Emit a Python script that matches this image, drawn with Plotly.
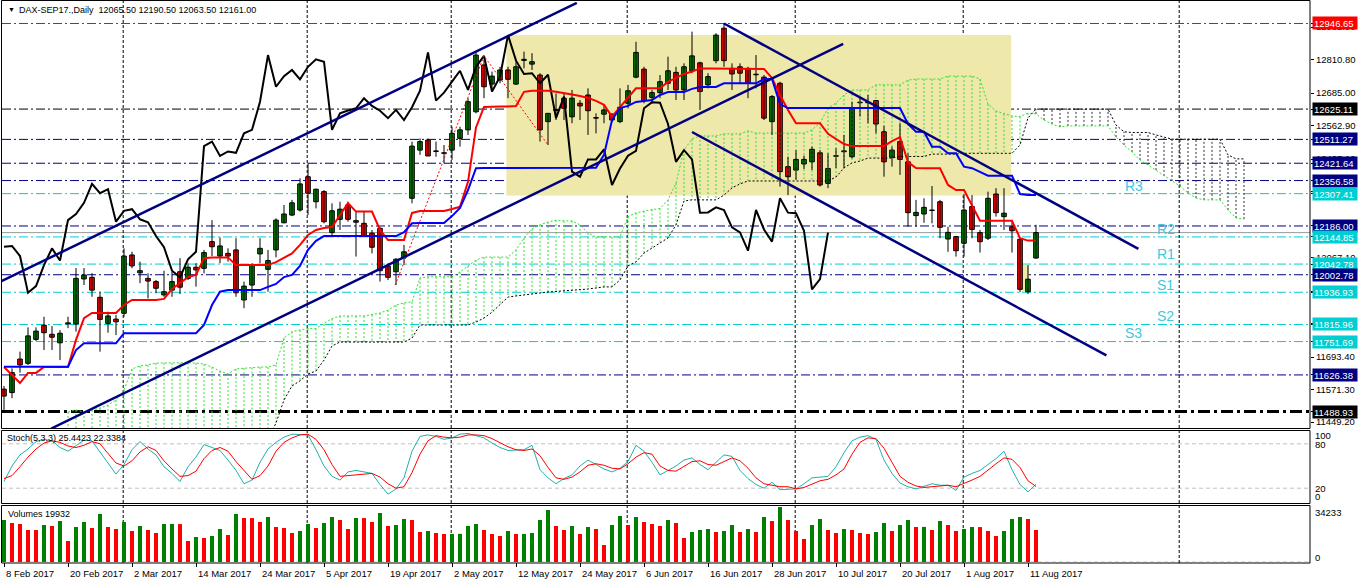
import plotly.graph_objects as go

W, H = 1358, 584

# ---------------- data ----------------
date_labels = ["8 Feb 2017", "20 Feb 2017", "2 Mar 2017", "14 Mar 2017", "24 Mar 2017",
               "5 Apr 2017", "19 Apr 2017", "2 May 2017", "12 May 2017", "24 May 2017",
               "6 Jun 2017", "16 Jun 2017", "28 Jun 2017", "10 Jul 2017", "20 Jul 2017",
               "1 Aug 2017", "11 Aug 2017"]
date_label_bars = [0, 8, 16, 24, 32, 40, 48, 56, 64, 72, 80, 88, 96, 104, 112, 120, 128]
month_start_bars = [15, 38, 56, 78, 99, 120, 147]

opens = [11573, 11560, 11686, 11670, 11760, 11813, 11779, 11747, 11818, 11818,
         11987, 11993, 11918, 11820, 11836, 11858, 12077, 12010, 11989, 11977,
         11927, 11945, 12014, 11989, 12031, 12027, 12127, 12073, 12083, 12096,
         11908, 11964, 12081, 12023, 12096, 12198, 12227, 12246, 12371, 12277,
         12315, 12161, 12211, 12265, 12206, 12196, 12159, 12177, 12036, 12014,
         12068, 12290, 12471, 12509, 12468, 12459, 12471, 12515, 12547, 12615,
         12791, 12719, 12734, 12772, 12719, 12808, 12794, 12753, 12578, 12624,
         12666, 12596, 12647, 12678, 12593, 12606, 12606, 12578, 12647, 12745,
         12775, 12669, 12687, 12722, 12763, 12697, 12769, 12799, 12716, 12807,
         12929, 12778, 12784, 12778, 12756, 12745, 12578, 12722, 12409, 12396,
         12419, 12427, 12461, 12346, 12448, 12465, 12446, 12649, 12651, 12657,
         12540, 12444, 12503, 12427, 12225, 12231, 12244, 12277, 12137, 12146,
         12121, 12259, 12161, 12140, 12306, 12221, 12183, 12136, 11939, 12065.50]
highs = [11585, 11651, 11714, 11805, 11805, 11845, 11810, 11795, 11845, 12028,
         12028, 12009, 11939, 11864, 11852, 12102, 12089, 12052, 12008, 11983,
         12018, 12014, 12065, 12046, 12046, 12096, 12208, 12143, 12102, 12140,
         11977, 12046, 12140, 12096, 12215, 12265, 12284, 12365, 12421.64, 12326,
         12321, 12271, 12277, 12277, 12240, 12240, 12171, 12183, 12046, 12065,
         12115, 12503, 12515, 12515, 12503, 12490, 12559, 12559, 12666, 12841,
         12810, 12766, 12784, 12784, 12803, 12841, 12835, 12760, 12609, 12684,
         12684, 12697, 12659, 12703, 12609, 12640, 12609, 12703, 12716, 12878,
         12784, 12697, 12753, 12822, 12784, 12797, 12916, 12803, 12760, 12910,
         12946.65, 12797, 12797, 12784, 12828, 12753, 12678, 12728, 12446, 12471,
         12450, 12484, 12471, 12459, 12478, 12528, 12653, 12672, 12678, 12659,
         12562, 12484, 12572, 12459, 12284, 12290, 12336, 12284, 12183, 12146,
         12306, 12302, 12171, 12315, 12328, 12328, 12208, 12140, 12039, 12190.50]
lows = [11489, 11539, 11635, 11664, 11754, 11720, 11720, 11682, 11802, 11789,
        11964, 11920, 11714, 11785, 11776, 11845, 12027, 11971, 11914, 11933,
        11920, 11920, 11930, 11983, 11958, 12008, 12073, 12046, 12052, 11920,
        11877, 11920, 12046, 11939, 12068, 12196, 12223, 12240, 12227, 12252,
        12196, 12146, 12171, 12202, 12071, 12146, 12083, 11977, 11983, 11964,
        12039, 12271, 12453, 12449, 12446, 12421, 12434, 12484, 12528, 12609,
        12666, 12690, 12722, 12666, 12716, 12778, 12772, 12503, 12490, 12584,
        12584, 12572, 12584, 12528, 12534, 12572, 12575, 12572, 12628, 12741,
        12647, 12647, 12666, 12697, 12659, 12659, 12760, 12622, 12703, 12797,
        12784, 12697, 12722, 12666, 12703, 12584, 12528, 12334, 12302, 12359,
        12400, 12396, 12334, 12328, 12403, 12403, 12440, 12597, 12572, 12534,
        12371, 12409, 12378, 12183, 12183, 12198, 12196, 12140, 12089, 12071,
        12071, 12140, 12086, 12133, 12221, 12171, 12086, 11937, 11930, 12063.50]
closes = [11547, 11635, 11664, 11773, 11791, 11785, 11768, 11783, 11822, 11989,
          12002, 11945, 11835, 11848, 11826, 12073, 12036, 12018, 11979, 11952,
          11939, 11977, 11956, 12031, 12021, 12086, 12108, 12111, 12073, 11935,
          11960, 12039, 12102, 12056, 12208, 12231, 12273, 12344, 12309, 12324,
          12202, 12243, 12249, 12211, 12200, 12148, 12106, 12018, 11993, 12061,
          12089, 12486, 12503, 12449, 12466, 12461, 12534, 12547, 12653, 12828,
          12709, 12749, 12772, 12737, 12784, 12812, 12803, 12547, 12609, 12620,
          12628, 12666, 12637, 12619, 12591, 12622, 12584, 12632, 12694, 12838,
          12657, 12687, 12728, 12769, 12697, 12784, 12825, 12691, 12747, 12903,
          12807, 12757, 12760, 12722, 12754, 12591, 12672, 12390, 12371, 12436,
          12436, 12474, 12340, 12402, 12450, 12468, 12628, 12651, 12649, 12569,
          12427, 12471, 12436, 12236, 12237, 12256, 12246, 12181, 12162, 12093,
          12246, 12173, 12127, 12290, 12236, 12234, 12168, 11948, 11986, 12161.00]

tenkan = [11656, 11626, 11596, 11634, 11634, 11656, 11656, 11656, 11656, 11758,
          11840, 11859, 11859, 11859, 11859, 11889, 11908, 11908, 11908, 11908,
          11912, 11949, 11972, 11994, 12002, 12065, 12068, 12068, 12068, 12039,
          12039, 12039, 12039, 12039, 12050, 12066, 12083, 12115, 12152, 12171,
          12178, 12182, 12227, 12272, 12240, 12240, 12240, 12171, 12133, 12133,
          12133, 12235, 12242, 12242, 12242, 12242, 12250, 12258, 12352, 12556,
          12633, 12635, 12635, 12635, 12637, 12690, 12694, 12694, 12694, 12690,
          12686, 12680, 12674, 12667, 12656, 12641, 12597, 12633, 12671, 12703,
          12703, 12703, 12703, 12727, 12742, 12757, 12766, 12778, 12778, 12778,
          12778, 12778, 12778, 12778, 12778, 12776, 12742, 12678, 12622, 12572,
          12572, 12572, 12572, 12532, 12513, 12494, 12486, 12486, 12486, 12486,
          12486, 12505, 12520, 12426, 12404, 12403, 12403, 12403, 12340, 12321,
          12321, 12265, 12206, 12206, 12206, 12206, 12206, 12140, 12131, 12131]
kijun = [11657, 11657, 11657, 11657, 11657, 11657, 11657, 11657, 11657, 11720,
         11745, 11745, 11745, 11745, 11745, 11783, 11783, 11783, 11783, 11783,
         11783, 11783, 11783, 11783, 11783, 11814, 11889, 11939, 11945, 11945,
         11945, 11945, 11945, 11957, 11968, 11994, 12002, 12036, 12096, 12130,
         12148, 12148, 12148, 12148, 12148, 12148, 12148, 12148, 12148, 12148,
         12163, 12196, 12197, 12197, 12197, 12197, 12223, 12254, 12321, 12403,
         12404, 12404, 12404, 12404, 12404, 12404, 12404, 12404, 12404, 12404,
         12404, 12404, 12404, 12404, 12405, 12453, 12584, 12629, 12637, 12652,
         12656, 12659, 12678, 12689, 12689, 12689, 12701, 12708, 12708, 12708,
         12722, 12722, 12722, 12722, 12722, 12738, 12738, 12644, 12629, 12629,
         12629, 12629, 12629, 12629, 12629, 12629, 12629, 12629, 12629, 12629,
         12629, 12629, 12629, 12569, 12540, 12540, 12484, 12484, 12459, 12459,
         12409, 12403, 12389, 12375, 12375, 12375, 12375, 12306, 12302, 12302]
span_a = [None, None, None, None, None, None, None, None,
          11487, 11495, 11487, 11495, 11502, 11513, 11532, 11570, 11649, 11660,
          11664, 11671, 11672, 11672, 11672, 11672, 11671, 11667, 11656, 11641,
          11630, 11649, 11652, 11654, 11656, 11656, 11664, 11765, 11789, 11795,
          11801, 11801, 11818, 11838, 11848, 11848, 11848, 11848, 11853, 11859,
          11870, 11889, 11897, 11901, 11991, 11995, 11995, 11995, 11995, 12013,
          12036, 12058, 12069, 12069, 12069, 12069, 12096, 12141, 12175, 12190,
          12201, 12208, 12205, 12205, 12190, 12160, 12145, 12145, 12145, 12145,
          12221, 12235, 12242, 12248, 12252, 12284, 12347, 12471, 12513, 12524,
          12524, 12524, 12532, 12532, 12532, 12543, 12535, 12535, 12535, 12535,
          12535, 12535, 12535, 12547, 12573, 12629, 12648, 12678, 12697, 12697,
          12697, 12716, 12716, 12716, 12716, 12734, 12738, 12738, 12738, 12738,
          12749, 12749, 12749, 12749, 12738, 12644, 12618, 12607, 12599, 12597,
          12610, 12607, 12584, 12569, 12558, 12562, 12562, 12562, 12562, 12562,
          12562, 12520, 12490, 12464, 12434, 12415, 12396, 12374, 12355, 12336,
          12310, 12291, 12284, 12284, 12284, 12246, 12216, 12212]
span_b = [None, None, None, None, None, None, None, None,
          11380, 11380, 11380, 11380, 11380, 11380, 11380, 11380, 11380, 11380,
          11380, 11380, 11380, 11380, 11380, 11380, 11380, 11380, 11380, 11380,
          11380, 11380, 11380, 11380, 11380, 11380,
          11446, 11532, 11585, 11604, 11630, 11641, 11682, 11735, 11750, 11750,
          11750, 11750, 11750, 11750, 11750, 11750, 11750, 11765, 11814, 11814,
          11814, 11814, 11814, 11814, 11814, 11825, 11840, 11862, 11889, 11919,
          11923, 11927, 11930, 11934, 11938, 11940, 11942, 11944, 11945, 11949,
          11953, 11957, 11957, 11983, 12036, 12051, 12084, 12103, 12122, 12141,
          12190, 12280, 12284, 12284, 12284, 12284, 12302, 12329, 12344, 12355,
          12355, 12355, 12355, 12355, 12355, 12355, 12355, 12355, 12355, 12355,
          12370, 12404, 12423, 12430, 12441, 12441, 12441, 12441, 12447, 12447,
          12447, 12447, 12456, 12456, 12456, 12456, 12459, 12459, 12459, 12459,
          12459, 12459, 12459, 12490, 12592, 12625, 12625, 12625, 12625, 12625,
          12625, 12625, 12625, 12625, 12625, 12565, 12540, 12537, 12537, 12537,
          12528, 12520, 12512, 12512, 12512, 12512, 12512, 12512, 12512, 12453,
          12438, 12438]

stoch_k = [29, 50, 65, 73, 83, 86, 84, 75, 70, 78,
           85, 84, 69, 55, 39, 52, 72, 83, 73, 65,
           49, 40, 29, 49, 62, 79, 75, 71, 58, 44,
           26, 31, 55, 73, 82, 89, 93, 93, 92, 72,
           50, 36, 31, 42, 44, 42, 40, 25, 12, 19,
           34, 70, 90, 92, 90, 86, 88, 93, 94, 91,
           88, 81, 75, 71, 71, 72, 78, 45, 34, 26,
           33, 38, 50, 58, 52, 46, 42, 47, 56, 78,
           70, 55, 38, 44, 50, 58, 61, 52, 45, 55,
           65, 63, 44, 33, 25, 20, 28, 18, 19, 19,
           26, 34, 35, 36, 49, 68, 84, 89, 91, 86,
           58, 40, 27, 22, 19, 23, 26, 24, 24, 17,
           35, 40, 44, 52, 60, 70, 45, 25, 15, 25.4423]
stoch_d = [33, 37, 49, 62, 73, 81, 84, 82, 77, 75,
           78, 83, 80, 67, 54, 50, 57, 69, 76, 71,
           57, 46, 36, 37, 43, 60, 71, 75, 70, 56,
           44, 32, 37, 50, 70, 82, 88, 92, 93, 86,
           72, 52, 36, 37, 38, 39, 40, 35, 26, 20,
           22, 41, 66, 84, 91, 89, 88, 89, 92, 92,
           91, 87, 81, 76, 72, 71, 73, 64, 48, 34,
           32, 35, 42, 51, 53, 51, 47, 46, 53, 62,
           68, 66, 50, 44, 43, 50, 56, 57, 52, 51,
           56, 61, 57, 47, 34, 26, 24, 22, 22, 19,
           21, 26, 30, 32, 38, 46, 66, 82, 88, 87,
           74, 55, 36, 28, 23, 21, 22, 24, 24, 22,
           26, 31, 36, 45, 53, 61, 59, 48, 30, 22.3384]

volumes = [26158, 24289, 23666, 19930, 19900, 23044, 22421, 25535, 13079, 21798,
           24912, 21175, 29894, 21798, 20552, 24912, 19307, 22421, 19930, 18061,
           23666, 23700, 23600, 13079, 15570, 14947, 16193, 20552, 16816, 29894,
           27403, 27350, 24912, 28026, 21798, 21175, 18061, 19307, 23666, 21175,
           24289, 28026, 26158, 20552, 27403, 27350, 24912, 30517, 22421, 23044,
           26780, 26158, 18684, 19307, 18061, 17438, 17480, 17520, 22421, 23666,
           19930, 17438, 16193, 19307, 17438, 17480, 18061, 26158, 32386, 22421,
           19930, 22421, 17438, 21798, 20552, 10588, 23044, 28649, 23044, 28026,
           24912, 23666, 22421, 26158, 24289, 14947, 18684, 19930, 20552, 18684,
           19307, 23044, 18684, 20552, 18684, 28026, 25535, 34233, 26158, 19307,
           14324, 23044, 26780, 19930, 18061, 20552, 19930, 18061, 17438, 18684,
           24289, 19307, 23044, 26158, 21798, 21850, 19930, 25535, 23044, 19307,
           20552, 21798, 21750, 19307, 16193, 19307, 26780, 28026, 26780, 19932]
volume_max = 34233

level_prices = [12946.65, 12625.11, 12511.27, 12421.64, 12356.58, 12307.41, 12186.00,
                12144.85, 12042.78, 12002.78, 11936.93, 11815.96, 11751.69, 11626.38, 11488.93]
level_kinds = ["red", "black", "navy", "navy", "navy", "cyan", "navy",
               "cyan", "cyan", "navy", "cyan", "cyan", "cyan", "navy", "blackbold"]
price_ticks = [12932.90, 12810.80, 12685.00, 12562.90, 12437.10, 12315.00, 12189.20,
               12067.10, 11941.30, 11819.20, 11693.40, 11571.30, 11449.20]

pivot_names = ["R3", "R2", "R1", "S1", "S2", "S3"]
pivot_bars = [139.9, 143.9, 143.9, 143.9, 143.9, 139.9]
pivot_prices = [12336, 12175, 12079, 11964, 11849, 11784]

# drawn objects (anchor bar index, price)
channel_up_top = ([-0.5, 71.6], [11976, 13024])
channel_up_bottom = ([5.9, 104.9], [11425, 12870])
channel_down_top = ([90, 141.8], [12946.65, 12100])
channel_down_bottom = ([86, 137.8], [12539, 11700])
red_dotted_line = ([48.9, 60.0, 68.0], [11964, 12825, 12490])
box_main = [62.8, 125.9, 12300, 12903]
box_small = [127.2, 128.1, 11939, 12040]

# ---------------- styles / layout constants ----------------
FONT = "Liberation Sans, Arial, sans-serif"
GREEN = "#008000"
RED = "#FF0000"
NAVY = "#000080"
CYAN = "#00CED1"
kind_style = {
    "red": (RED, 1, "9px,3px,2px,3px"),
    "black": ("#000000", 1, "9px,3px,2px,3px"),
    "navy": (NAVY, 1, "9px,3px,2px,3px"),
    "cyan": (CYAN, 1, "9px,3px,2px,3px"),
    "blackbold": ("#000000", 3, "12px,4px,3px,4px"),
}
kind_bg = {"red": RED, "black": "#000000", "navy": NAVY, "cyan": CYAN, "blackbold": "#000000"}

X_LEFT, X_RIGHT = 2, 1310
MAIN_TOP, MAIN_BOT = 2, 428
STO_TOP, STO_BOT = 429, 503
VOL_TOP, VOL_BOT = 507, 562


def px(x):
    return x / W


def py(y):
    return 1 - y / H


n = len(closes)
bars = list(range(n))
n_span = len(span_a)

fig = go.Figure()

# Ichimoku cloud hatch
hx_bull, hy_bull, hx_bear, hy_bear = [], [], [], []
for i in range(n_span):
    a, b = span_a[i], span_b[i]
    if a is None or b is None:
        continue
    if a >= b:
        hx_bull += [i, i, None]
        hy_bull += [a, b, None]
    else:
        hx_bear += [i, i, None]
        hy_bear += [a, b, None]
fig.add_trace(go.Scatter(x=hx_bull, y=hy_bull, mode="lines",
                         line=dict(color="#33DD33", width=1, dash="2px,2px"),
                         xaxis="x", yaxis="y", hoverinfo="skip"))
fig.add_trace(go.Scatter(x=hx_bear, y=hy_bear, mode="lines",
                         line=dict(color="#333333", width=1, dash="2px,2px"),
                         xaxis="x", yaxis="y", hoverinfo="skip"))
fig.add_trace(go.Scatter(x=list(range(n_span)), y=span_a, mode="lines",
                         line=dict(color="#33DD33", width=1, dash="2px,2px"),
                         xaxis="x", yaxis="y", hoverinfo="skip"))
fig.add_trace(go.Scatter(x=list(range(n_span)), y=span_b, mode="lines",
                         line=dict(color="#000000", width=1, dash="2px,2px"),
                         xaxis="x", yaxis="y", hoverinfo="skip"))

# Chikou span (close shifted back 26 bars)
fig.add_trace(go.Scatter(x=bars[:n - 26], y=closes[26:], mode="lines",
                         line=dict(color="#000000", width=2),
                         xaxis="x", yaxis="y", hoverinfo="skip"))

# Candles: wicks
wx, wy = [], []
for i in range(n):
    wx += [i, i, None]
    wy += [lows[i], highs[i], None]
fig.add_trace(go.Scatter(x=wx, y=wy, mode="lines", line=dict(color="#000000", width=1),
                         xaxis="x", yaxis="y", hoverinfo="skip"))
# Candles: bodies
bases = [min(o, c) for o, c in zip(opens, closes)]
heights = [max(abs(c - o), 2.0) for o, c in zip(opens, closes)]
body_colors = [GREEN if c >= o else RED for o, c in zip(opens, closes)]
fig.add_trace(go.Bar(x=bars, y=heights, base=bases, width=0.58,
                     marker=dict(color=body_colors, line=dict(color="#000000", width=1)),
                     xaxis="x", yaxis="y", hoverinfo="skip"))

# Tenkan / Kijun
fig.add_trace(go.Scatter(x=bars, y=tenkan, mode="lines", line=dict(color=RED, width=2),
                         xaxis="x", yaxis="y", hoverinfo="skip"))
fig.add_trace(go.Scatter(x=bars, y=kijun, mode="lines", line=dict(color="#0000FF", width=2),
                         xaxis="x", yaxis="y", hoverinfo="skip"))

# Trend lines
for xs, ys in (channel_up_top, channel_up_bottom, channel_down_top, channel_down_bottom):
    fig.add_trace(go.Scatter(x=xs, y=ys, mode="lines", line=dict(color=NAVY, width=2.5),
                             xaxis="x", yaxis="y", hoverinfo="skip"))
fig.add_trace(go.Scatter(x=red_dotted_line[0], y=red_dotted_line[1], mode="lines",
                         line=dict(color=RED, width=1, dash="2px,2px"),
                         xaxis="x", yaxis="y", hoverinfo="skip"))

# Stochastic
fig.add_trace(go.Scatter(x=bars, y=stoch_k, mode="lines", line=dict(color="#20B2AA", width=1),
                         xaxis="x", yaxis="y2", hoverinfo="skip"))
fig.add_trace(go.Scatter(x=bars, y=stoch_d, mode="lines", line=dict(color=RED, width=1),
                         xaxis="x", yaxis="y2", hoverinfo="skip"))

# Volumes
vol_colors = [GREEN if (i == 0 or volumes[i] > volumes[i - 1]) else RED for i in range(n)]
fig.add_trace(go.Bar(x=bars, y=volumes, width=0.5, marker=dict(color=vol_colors, line=dict(width=0)),
                     xaxis="x", yaxis="y3", hoverinfo="skip"))

# ---------------- shapes ----------------
shapes = []
for bx in (box_main, box_small):
    shapes.append(dict(type="rect", xref="x", yref="y", x0=bx[0], x1=bx[1], y0=bx[2], y1=bx[3],
                       fillcolor="#EEE8AA", line=dict(width=0), layer="below"))
for p, k in zip(level_prices, level_kinds):
    col, wd, ds = kind_style[k]
    shapes.append(dict(type="line", xref="paper", yref="y", x0=px(X_LEFT), x1=px(X_RIGHT),
                       y0=p, y1=p, line=dict(color=col, width=wd, dash=ds), layer="below"))
# current price line
shapes.append(dict(type="line", xref="paper", yref="y", x0=px(X_LEFT), x1=px(X_RIGHT),
                   y0=closes[-1], y1=closes[-1], line=dict(color="#999999", width=1), layer="below"))
# stochastic levels
for lv in (20, 80):
    shapes.append(dict(type="line", xref="paper", yref="y2", x0=px(X_LEFT), x1=px(X_RIGHT),
                       y0=lv, y1=lv, line=dict(color="#C0C0C0", width=1, dash="4px,3px"), layer="below"))
shapes.append(dict(type="line", xref="paper", yref="y3", x0=px(X_LEFT), x1=px(X_RIGHT),
                   y0=0, y1=0, line=dict(color="#C0C0C0", width=1, dash="4px,3px"), layer="below"))
# month grid
for mb in month_start_bars:
    shapes.append(dict(type="line", xref="x", yref="paper", x0=mb - 0.1, x1=mb - 0.1,
                       y0=py(563), y1=py(1), line=dict(color="#000000", width=1, dash="3px,2px"),
                       layer="below"))
# panel borders
for (t, b) in ((0.5, 428.5), (430.5, 503.5), (505.5, 563)):
    shapes.append(dict(type="rect", xref="paper", yref="paper", x0=px(1.5), x1=px(X_RIGHT),
                       y0=py(b), y1=py(t), line=dict(color="#000000", width=1),
                       fillcolor="rgba(0,0,0,0)", layer="above"))

# ---------------- annotations ----------------
ann = []
ann.append(dict(xref="paper", yref="paper", x=px(6), y=py(10), xanchor="left", yanchor="middle",
                text="\u25BC", showarrow=False, font=dict(family=FONT, size=7, color="#000000")))
header = "DAX-SEP17.,Daily\u00a0\u00a0{:.2f} {:.2f} {:.2f} {:.2f}".format(
    opens[-1], highs[-1], lows[-1], closes[-1])
ann.append(dict(xref="paper", yref="paper", x=px(17), y=py(10), xanchor="left", yanchor="middle",
                text=header, showarrow=False, font=dict(family=FONT, size=9, color="#000000")))
ann.append(dict(xref="paper", yref="paper", x=px(5), y=py(438), xanchor="left", yanchor="middle",
                text="Stoch(5,3,3) {:.4f} {:.4f}".format(stoch_k[-1], stoch_d[-1]), showarrow=False,
                font=dict(family=FONT, size=9, color="#000000")))
ann.append(dict(xref="paper", yref="paper", x=px(6), y=py(514), xanchor="left", yanchor="middle",
                text="Volumes {}".format(volumes[-1]), showarrow=False,
                font=dict(family=FONT, size=9, color="#000000")))

for p, k in zip(level_prices, level_kinds):
    ann.append(dict(xref="paper", yref="y", x=px(1312), y=p, xanchor="left", yanchor="middle",
                    text="{:.2f}".format(p), showarrow=False, bgcolor=kind_bg[k],
                    width=42, height=10, align="left", borderpad=1,
                    font=dict(family=FONT, size=9.5, color="#FFFFFF")))

for name, xb, pp in zip(pivot_names, pivot_bars, pivot_prices):
    ann.append(dict(xref="x", yref="y", x=xb, y=pp, xanchor="left", yanchor="middle",
                    text=name, showarrow=False, font=dict(family=FONT, size=14, color="#40C8DC")))

for lab, b in zip(date_labels, date_label_bars):
    ann.append(dict(xref="x", yref="paper", x=b, y=py(573), xanchor="left", yanchor="middle",
                    xshift=0, text=lab, showarrow=False, font=dict(family=FONT, size=9.5, color="#000000")))

for txt, yy in (("100", 435), ("80", 444), ("20", 488), ("0", 496), ("34233", 512), ("0", 557)):
    ann.append(dict(xref="paper", yref="paper", x=px(1313), y=py(yy), xanchor="left", yanchor="middle",
                    text=txt, showarrow=False, font=dict(family=FONT, size=9.5, color="#000000")))

all_ticks = price_ticks + level_prices
tick_text = ["{:.2f}".format(v) for v in price_ticks] + ["" for _ in level_prices]

fig.update_layout(
    width=W, height=H, autosize=False,
    margin=dict(l=0, r=0, t=0, b=0),
    paper_bgcolor="#FFFFFF", plot_bgcolor="#FFFFFF",
    showlegend=False, hovermode=False, barmode="overlay",
    font=dict(family=FONT, size=9.5, color="#000000"),
    xaxis=dict(domain=[px(X_LEFT), px(X_RIGHT)], range=[-0.25, 163.25], anchor="y3",
               showgrid=False, zeroline=False, showline=False,
               tickmode="array", tickvals=date_label_bars, ticks="outside", ticklen=4,
               tickcolor="#000000", showticklabels=False),
    yaxis=dict(domain=[py(MAIN_BOT), py(MAIN_TOP)], range=[11427.0, 13027.4], anchor="x",
               side="right", showgrid=False, zeroline=False, showline=False,
               tickmode="array", tickvals=all_ticks, ticktext=tick_text,
               ticks="outside", ticklen=3, tickcolor="#000000",
               tickfont=dict(family=FONT, size=9.5, color="#000000")),
    yaxis2=dict(domain=[py(STO_BOT), py(STO_TOP)], range=[0, 100], anchor="x", side="right",
                showgrid=False, zeroline=False, showline=False, showticklabels=False),
    yaxis3=dict(domain=[py(VOL_BOT), py(VOL_TOP)], range=[0, volume_max], anchor="x", side="right",
                showgrid=False, zeroline=False, showline=False, showticklabels=False),
    shapes=shapes,
    annotations=ann,
)

fig.write_html("out.html", config={"displayModeBar": False, "staticPlot": True},
               post_script="document.body.style.margin='0px';document.body.style.overflow='hidden';")
